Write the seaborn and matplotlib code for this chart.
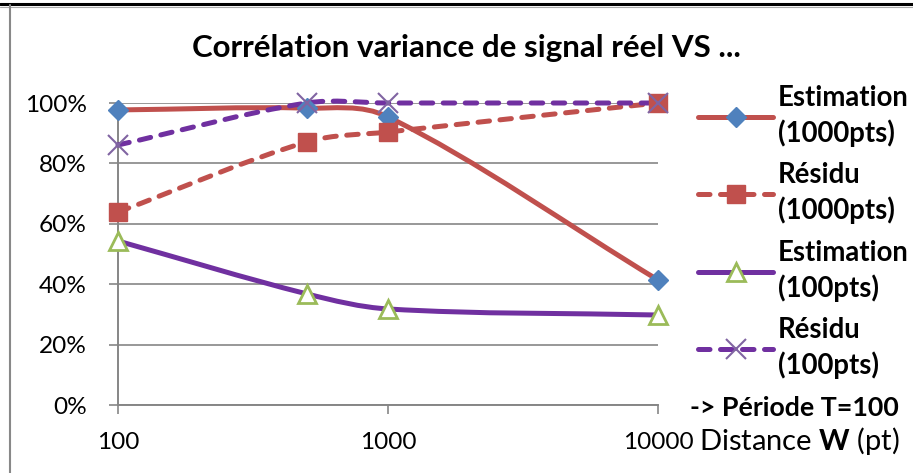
import numpy as np
import pandas as pd
import matplotlib
matplotlib.use('Agg')
import matplotlib.pyplot as plt
import seaborn as sns
from matplotlib.path import Path
from matplotlib.patches import PathPatch
from matplotlib.lines import Line2D
from matplotlib.ticker import NullLocator

# data
distance = [100, 500, 1000, 10000]
estim_1000 = [0.977, 0.983, 0.954, 0.414]
residu_1000 = [0.639, 0.871, 0.904, 1.0]
estim_100 = [0.543, 0.368, 0.318, 0.298]
residu_100 = [0.861, 1.0, 1.0, 1.0]
series_labels = ['Estimation\n(1000pts)', 'Résidu\n(1000pts)',
                 'Estimation\n(100pts)', 'Résidu\n(100pts)']
xtick_values = [100, 1000, 10000]
xtick_labels = ['100', '1000', '10000']
ytick_values = [0, 0.2, 0.4, 0.6, 0.8, 1.0]
ytick_labels = ['0%', '20%', '40%', '60%', '80%', '100%']
title = 'Corrélation variance de signal réel VS ...'
note = '-> Période T=100'

df = pd.DataFrame({'distance': distance, 'estim_1000': estim_1000,
                   'residu_1000': residu_1000, 'estim_100': estim_100,
                   'residu_100': residu_100})

RED = '#C0504D'
PURPLE = '#7030A0'
styles = {
    'estim_1000': dict(color=RED, dash=None, marker='D', ms=10.5, mfc='#4F81BD', mec='#4F81BD', mew=1),
    'residu_1000': dict(color=RED, dash=(2.3, 2.1), marker='s', ms=13.5, mfc=RED, mec=RED, mew=1),
    'estim_100': dict(color=PURPLE, dash=None, marker='^', ms=13.5, mfc='white', mec='#9BBB59', mew=2),
    'residu_100': dict(color=PURPLE, dash=(2.3, 2.1), marker='x', ms=14, mfc='none', mec='#8064A2', mew=1.5),
}
LW = 3.6

sns.set_theme(style='white')
plt.rcParams['font.family'] = ['Lato', 'DejaVu Sans']
plt.rcParams['mathtext.fontset'] = 'custom'
plt.rcParams['mathtext.rm'] = 'Lato'
plt.rcParams['mathtext.bf'] = 'Lato:bold'
plt.rcParams['text.color'] = 'black'


def smooth_path(xs, ys):
    # Excel-like smoothed line: cubic Bezier through the points (log x space),
    # handle lengths scaled by the neighbouring segment widths
    p = np.column_stack([np.log10(xs), ys])
    pp = np.vstack([p[0], p, p[-1]])
    verts, codes = [p[0]], [Path.MOVETO]
    for i in range(len(p) - 1):
        p0, p1, p2, p3 = pp[i], pp[i + 1], pp[i + 2], pp[i + 3]
        d01, d12, d23 = p1[0] - p0[0], p2[0] - p1[0], p3[0] - p2[0]
        c1 = p1 + (p2 - p0) * d12 / (d01 + d12) / 3
        c2 = p2 - (p3 - p1) * d12 / (d12 + d23) / 3
        verts += [c1, c2, p2]
        codes += [Path.CURVE4] * 3
    verts = np.array(verts)
    verts[:, 0] = 10 ** verts[:, 0]
    return Path(verts, codes)


fig = plt.figure(figsize=(9.13, 4.73), dpi=100)
ax = fig.add_axes([118 / 913, 68 / 473, 540 / 913, 302 / 473])
ax.set_xscale('log')

# lines first
for i, (col, st) in enumerate(styles.items()):
    patch = PathPatch(smooth_path(df['distance'], df[col]), facecolor='none',
                      edgecolor=st['color'], lw=LW, clip_on=False, zorder=3 + i * 0.1,
                      capstyle='round', joinstyle='round',
                      linestyle='-' if st['dash'] is None else (0, st['dash']))
    ax.add_patch(patch)

# markers on top
for i, (col, st) in enumerate(styles.items()):
    sns.lineplot(data=df, x='distance', y=col, ax=ax, linestyle='', marker=st['marker'],
                 markersize=st['ms'], markerfacecolor=st['mfc'], markeredgecolor=st['mec'],
                 markeredgewidth=st['mew'], color=st['color'], clip_on=False, zorder=5 + i * 0.1)

ax.set(xlabel='', ylabel='')
ax.set_xlim(100, 10000)
ax.set_ylim(0, 1)
ax.set_xticks(xtick_values, xtick_labels)
ax.xaxis.set_minor_locator(NullLocator())
ax.set_yticks(ytick_values, ytick_labels)
ax.yaxis.grid(True, color='#868686', lw=1.2)
ax.xaxis.grid(False)
for s in ['top', 'right']:
    ax.spines[s].set_visible(False)
for s in ['left', 'bottom']:
    ax.spines[s].set_color('#868686')
    ax.spines[s].set_linewidth(1.4)
ax.tick_params(axis='both', direction='out', length=6.5, width=1.2, color='#868686',
               labelsize=17.6, labelcolor='black', bottom=True, left=True)
ax.tick_params(axis='y', pad=16)
ax.tick_params(axis='x', pad=13)

handles = []
for col, st in styles.items():
    handles.append(Line2D([], [], color=st['color'], lw=LW,
                          ls='-' if st['dash'] is None else (0, st['dash']),
                          marker=st['marker'], ms=st['ms'], mfc=st['mfc'], mec=st['mec'],
                          mew=st['mew'], dash_capstyle='round', solid_capstyle='round'))
leg = ax.legend(handles, series_labels, loc='upper left', bbox_to_anchor=(698 / 913, 1 - 85 / 473),
                bbox_transform=fig.transFigure, frameon=False, prop={'weight': 'bold', 'size': 19.8},
                handlelength=2.73, handletextpad=0.18, labelspacing=0.56, borderpad=0,
                borderaxespad=0, numpoints=1)
for t in leg.get_texts():
    t.set_linespacing(1.37)

fig.text(466 / 913, 1 - 48 / 473, title, ha='center', va='center', fontsize=22.5, fontweight='bold')
fig.text(690 / 913, 1 - 408 / 473, note, ha='left', va='center', fontsize=19.3, fontweight='bold')
fig.text(699 / 913, 1 - 441 / 473, r'Distance $\mathbf{W}$ (pt)', ha='left', va='center', fontsize=21)

# frame remnants of the screenshot
fig.add_artist(Line2D([0, 1], [1 - 4 / 473] * 2, transform=fig.transFigure, color='black', lw=2.2))
fig.add_artist(Line2D([0, 1], [1 - 7 / 473] * 2, transform=fig.transFigure, color='#aaaaaa', lw=0.8))
fig.add_artist(Line2D([9.5 / 913] * 2, [0, 1 - 5 / 473], transform=fig.transFigure, color='#888888', lw=1.5))

fig.savefig('out.png', dpi=100)
